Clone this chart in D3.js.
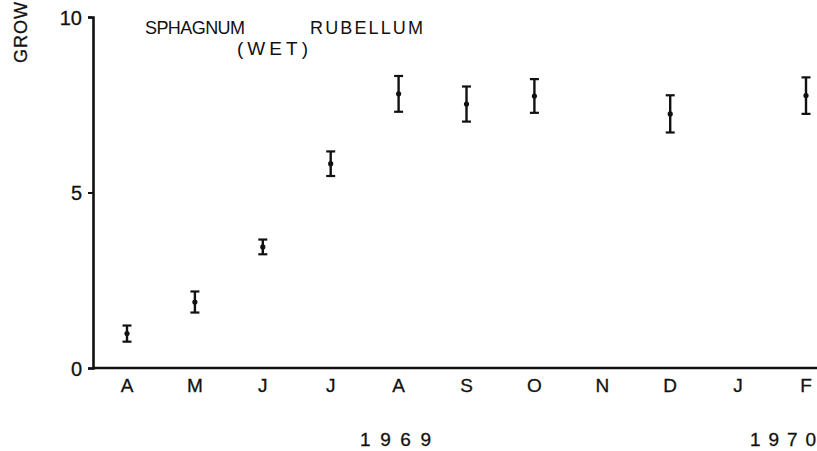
<!DOCTYPE html>
<html>
<head>
<meta charset="utf-8">
<script src="https://cdn.jsdelivr.net/npm/d3@7"></script>
<style>
  html, body { margin: 0; padding: 0; background: #fff; }
  svg { display: block; }
  text { font-family: "Liberation Sans", "DejaVu Sans", sans-serif; fill: #111; stroke: #111; stroke-width: 0.3px; }
  text.title { stroke-width: 0; }
</style>
</head>
<body>
<svg id="chart" width="817" height="451"></svg>
<script>
// Monthly sampling, April 1969 – February 1970
const months = ["A", "M", "J", "J", "A", "S", "O", "N", "D", "J", "F"];
// Which month each measurement belongs to (index into months)
const sampleMonth = [0, 1, 2, 3, 4, 5, 6, 8, 10];
// Mean growth and half-width of the error bar
const growthMean = [0.98, 1.88, 3.45, 5.82, 7.81, 7.52, 7.75, 7.24, 7.76];
const growthErr  = [0.23, 0.30, 0.21, 0.35, 0.51, 0.50, 0.48, 0.53, 0.52];
const yTicks = [0, 5, 10];
const yearLabels = ["1969", "1970"];

const svg = d3.select("#chart");
const ink = "#111";

const x = d3.scalePoint().domain(d3.range(months.length)).range([127, 806]);
const y = d3.scaleLinear().domain([0, 10]).range([368, 17]);

// Y axis
const yAxis = svg.append("g").attr("transform", "translate(93,0)")
  .call(d3.axisLeft(y).tickValues(yTicks).tickSize(5).tickPadding(6).tickFormat(d3.format("d")));
yAxis.select(".domain").attr("stroke", ink).attr("stroke-width", 2.6);
yAxis.selectAll(".tick line").attr("stroke", ink).attr("stroke-width", 2);
yAxis.selectAll(".tick text").attr("font-size", 20).attr("dy", "0.36em")
  .style("fill", ink).style("font-family", "'Liberation Sans', sans-serif");

// X axis baseline and month labels
svg.append("line")
  .attr("x1", 93).attr("x2", 818)
  .attr("y1", y(0)).attr("y2", y(0))
  .attr("stroke", ink).attr("stroke-width", 2.6);

svg.append("g").selectAll("text").data(months).join("text")
  .attr("x", (d, i) => x(i))
  .attr("y", 392)
  .attr("text-anchor", "middle")
  .attr("font-size", 19)
  .text(d => d);

// Year labels under August 1969 and the end of the axis
svg.append("text").attr("x", 360).attr("y", 446).attr("font-size", 19)
  .attr("textLength", 71).attr("lengthAdjust", "spacing").text(yearLabels[0]);
svg.append("text").attr("x", 750).attr("y", 446).attr("font-size", 19)
  .attr("textLength", 66).attr("lengthAdjust", "spacing").text(yearLabels[1]);

// Y axis title
svg.append("text")
  .attr("transform", "translate(27,63) rotate(-90)")
  .attr("font-size", 18)
  .attr("textLength", 61).attr("lengthAdjust", "spacing")
  .text("GROW");

// Species label
svg.append("text").attr("class", "title").attr("x", 145).attr("y", 34).attr("font-size", 18)
  .attr("textLength", 100).attr("lengthAdjust", "spacing").text("SPHAGNUM");
svg.append("text").attr("class", "title").attr("x", 310).attr("y", 34).attr("font-size", 18)
  .attr("textLength", 113).attr("lengthAdjust", "spacing").text("RUBELLUM");
svg.append("text").attr("class", "title").attr("x", 237).attr("y", 55).attr("font-size", 19)
  .attr("textLength", 71).attr("lengthAdjust", "spacing").text("(WET)");

// Error bars with mean points
const pts = sampleMonth.map((m, i) => ({ m, v: growthMean[i], e: growthErr[i] }));
const g = svg.append("g");
const cap = 4.5;
g.selectAll("line.stem").data(pts).join("line").attr("class", "stem")
  .attr("x1", d => x(d.m)).attr("x2", d => x(d.m))
  .attr("y1", d => y(d.v + d.e)).attr("y2", d => y(d.v - d.e))
  .attr("stroke", ink).attr("stroke-width", 2.4);
g.selectAll("line.capTop").data(pts).join("line").attr("class", "capTop")
  .attr("x1", d => x(d.m) - cap).attr("x2", d => x(d.m) + cap)
  .attr("y1", d => y(d.v + d.e)).attr("y2", d => y(d.v + d.e))
  .attr("stroke", ink).attr("stroke-width", 2.2);
g.selectAll("line.capBot").data(pts).join("line").attr("class", "capBot")
  .attr("x1", d => x(d.m) - cap).attr("x2", d => x(d.m) + cap)
  .attr("y1", d => y(d.v - d.e)).attr("y2", d => y(d.v - d.e))
  .attr("stroke", ink).attr("stroke-width", 2.2);
g.selectAll("circle").data(pts).join("circle")
  .attr("cx", d => x(d.m)).attr("cy", d => y(d.v))
  .attr("r", 2.6).attr("fill", ink);
</script>
</body>
</html>
